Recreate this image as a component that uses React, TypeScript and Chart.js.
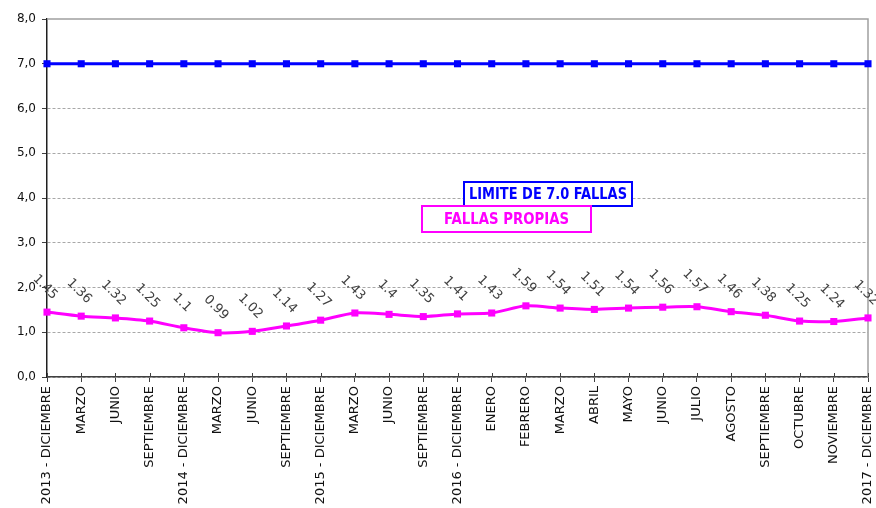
import React, { useEffect, useRef } from "react";
import { Chart, registerables } from "chart.js";

Chart.register(...registerables);

const categories = [
  "2013 - DICIEMBRE", "MARZO", "JUNIO", "SEPTIEMBRE",
  "2014 - DICIEMBRE", "MARZO", "JUNIO", "SEPTIEMBRE",
  "2015 - DICIEMBRE", "MARZO", "JUNIO", "SEPTIEMBRE",
  "2016 - DICIEMBRE", "ENERO", "FEBRERO", "MARZO", "ABRIL", "MAYO",
  "JUNIO", "JULIO", "AGOSTO", "SEPTIEMBRE", "OCTUBRE", "NOVIEMBRE",
  "2017 - DICIEMBRE",
];

const fallasPropias = [
  1.45, 1.36, 1.32, 1.25, 1.1, 0.99, 1.02, 1.14, 1.27, 1.43, 1.4, 1.35,
  1.41, 1.43, 1.59, 1.54, 1.51, 1.54, 1.56, 1.57, 1.46, 1.38, 1.25, 1.24, 1.32,
];

const limite = [
  7, 7, 7, 7, 7, 7, 7, 7, 7, 7, 7, 7, 7, 7, 7, 7, 7, 7, 7, 7, 7, 7, 7, 7, 7,
];

const yTicks = [0, 1, 2, 3, 4, 5, 6, 7, 8];

const LIMITE_LABEL = "LIMITE DE 7.0 FALLAS";
const PROPIAS_LABEL = "FALLAS PROPIAS";

const framePlugin = {
  id: "frame",
  beforeDatasetsDraw(chart: any) {
    const { ctx, chartArea } = chart;
    ctx.save();
    ctx.strokeStyle = "#a0a0a0";
    ctx.lineWidth = 1.5;
    ctx.beginPath();
    ctx.moveTo(chartArea.left, chartArea.top);
    ctx.lineTo(chartArea.right, chartArea.top);
    ctx.lineTo(chartArea.right, chartArea.bottom);
    ctx.stroke();
    const xs = chart.scales.x;
    ctx.strokeStyle = "#404040";
    ctx.lineWidth = 1;
    ctx.beginPath();
    for (let i = 0; i < categories.length; i++) {
      const x = Math.round(xs.getPixelForTick(i)) + 0.5;
      ctx.moveTo(x, chartArea.bottom - 4);
      ctx.lineTo(x, chartArea.bottom);
    }
    ctx.stroke();
    ctx.restore();
  },
};

const dataLabelsPlugin = {
  id: "dataLabels",
  afterDatasetsDraw(chart: any) {
    const ctx = chart.ctx;
    const meta = chart.getDatasetMeta(1);
    const values = chart.data.datasets[1].data as number[];
    ctx.save();
    ctx.font = '13px "DejaVu Sans"';
    ctx.fillStyle = "#404040";
    ctx.textAlign = "center";
    ctx.textBaseline = "middle";
    meta.data.forEach((pt: any, i: number) => {
      ctx.save();
      ctx.translate(pt.x - 2, pt.y - 25);
      ctx.rotate(Math.PI / 4);
      ctx.fillText(String(values[i]), 0, 0);
      ctx.restore();
    });
    ctx.restore();
  },
};

const legendBoxesPlugin = {
  id: "legendBoxes",
  afterDraw(chart: any) {
    const ctx = chart.ctx;
    const drawBox = (x: number, y: number, w: number, h: number, color: string, text: string, tw: number) => {
      ctx.save();
      ctx.fillStyle = "#ffffff";
      ctx.fillRect(x, y, w, h);
      ctx.strokeStyle = color;
      ctx.lineWidth = 2;
      ctx.strokeRect(x, y, w, h);
      ctx.fillStyle = color;
      ctx.font = 'bold 15px "DejaVu Sans Condensed", "DejaVu Sans"';
      ctx.textAlign = "center";
      ctx.textBaseline = "middle";
      ctx.fillText(text, x + w / 2, y + h / 2 + 1, tw);
      ctx.restore();
    };
    drawBox(464, 182, 168, 24, "#0000FF", LIMITE_LABEL, 158);
    drawBox(422, 206, 169, 26, "#FF00FF", PROPIAS_LABEL, 125);
  },
};

export default function App() {
  const canvasRef = useRef<HTMLCanvasElement | null>(null);

  useEffect(() => {
    if (!canvasRef.current) return;
    const chart = new Chart(canvasRef.current, {
      type: "line",
      data: {
        labels: categories,
        datasets: [
          {
            label: LIMITE_LABEL,
            data: limite,
            borderColor: "#0000FF",
            backgroundColor: "#0000FF",
            borderWidth: 3,
            pointStyle: "rect",
            pointRadius: 5,
            pointBorderWidth: 0,
            tension: 0,
          },
          {
            label: PROPIAS_LABEL,
            data: fallasPropias,
            borderColor: "#FF00FF",
            backgroundColor: "#FF00FF",
            borderWidth: 3,
            pointStyle: "rect",
            pointRadius: 5,
            pointBorderWidth: 0,
            tension: 0.25,
          },
        ],
      },
      options: {
        responsive: false,
        animation: false,
        layout: { padding: { top: 19, right: 8, left: 0, bottom: 0 } },
        plugins: {
          legend: { display: false },
          tooltip: { enabled: false },
        },
        scales: {
          x: {
            offset: false,
            grid: {
              drawOnChartArea: false,
              drawTicks: true,
              tickLength: 5,
              tickColor: "#404040",
            },
            border: { color: "#404040", width: 1.5 },
            ticks: {
              autoSkip: false,
              maxRotation: 90,
              minRotation: 90,
              padding: 4,
              color: "#111",
              font: { family: "DejaVu Sans", size: 13 },
            },
            afterFit: (s: any) => {
              s.height = 131;
              s.paddingRight = 0;
              s.paddingLeft = 0;
            },
          },
          y: {
            min: 0,
            max: 8,
            afterBuildTicks: (s: any) => {
              s.ticks = yTicks.map((v) => ({ value: v }));
            },
            grid: {
              color: (c: any) => (c.tick && c.tick.value === 8 ? "rgba(0,0,0,0)" : "#a8a8a8"),
              tickColor: "#404040",
              tickLength: 5,
              lineWidth: 1,
            },
            border: { color: "#202020", width: 1.5, dash: [3, 2] },
            ticks: {
              padding: 6,
              color: "#111",
              font: { family: "DejaVu Sans", size: 12 },
              callback: (v: any) => Number(v).toFixed(1).replace(".", ","),
            },
            afterFit: (s: any) => {
              s.width = 47;
            },
          },
        },
      },
      plugins: [framePlugin, dataLabelsPlugin, legendBoxesPlugin],
    });
    return () => chart.destroy();
  }, []);

  return (
    <div style={{ position: "fixed", left: 0, top: 0, width: 876, height: 508, background: "#fff" }}>
      <canvas ref={canvasRef} width={876} height={508} style={{ width: 876, height: 508 }} />
    </div>
  );
}
